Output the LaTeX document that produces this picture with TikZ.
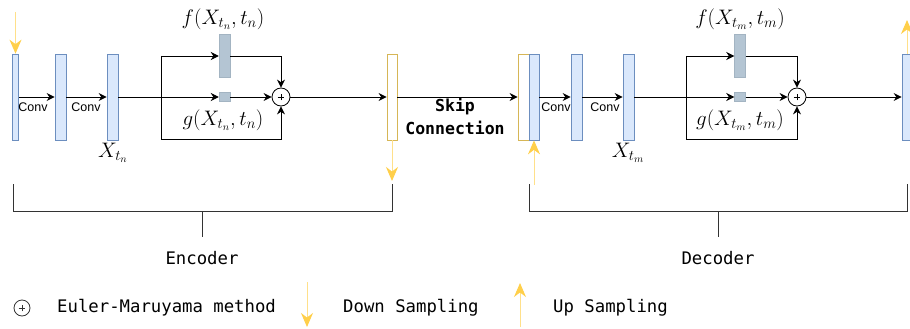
\RequirePackage{fix-cm}
\documentclass[tikz,border=0pt]{standalone}
\usepackage{fontspec}
\newfontfamily\monofont{DejaVu Sans Mono}
\newfontfamily\convfont{Liberation Sans}
\usetikzlibrary{arrows.meta}

\definecolor{barfill}{HTML}{DAE8FC}
\definecolor{barline}{HTML}{6C8EBF}
\definecolor{blkfill}{HTML}{B4C5D3}
\definecolor{blkline}{HTML}{A3B4C2}
\definecolor{skipline}{HTML}{D6B656}
\definecolor{samp}{HTML}{FFE08A}
\definecolor{samphead}{HTML}{FFCF4A}
\definecolor{brk}{HTML}{333333}

\tikzset{
  layer/.style={draw=barline, fill=barfill, line width=0.7pt, inner sep=0pt,
    minimum width=#1, minimum height=86pt},
  layer/.default=11pt,
  skipbar/.style={draw=skipline, fill=white, line width=0.8pt, inner sep=0pt,
    minimum width=#1, minimum height=86pt},
  skipbar/.default=11pt,
  block/.style={draw=blkline, fill=blkfill, line width=0.5pt, inner sep=0pt,
    minimum width=11pt, minimum height=#1},
  summer/.style={circle, draw=black, line width=0.8pt, minimum size=#1, inner sep=0pt,
    path picture={\draw[line width=0.8pt]
      ([xshift=-3.4pt]path picture bounding box.center) -- ([xshift=3.4pt]path picture bounding box.center)
      ([yshift=-3.4pt]path picture bounding box.center) -- ([yshift=3.4pt]path picture bounding box.center);}},
  flow/.style={draw=black, line width=0.9pt, -{Stealth[length=8pt,width=8pt]}},
  wire/.style={draw=black, line width=0.9pt},
  sampling/.style={draw=samp, line width=1pt,
    -{Stealth[length=14pt,width=12pt,color=samphead,fill=samphead]}},
  bracket/.style={draw=brk, line width=0.8pt},
  convlbl/.style={font=\convfont\fontsize{12.5}{14}\selectfont, inner sep=0pt},
  mathlbl/.style={font=\fontsize{21}{24}\selectfont, inner sep=0pt},
  monolbl/.style={font=\monofont\fontsize{17.3}{20}\selectfont, inner sep=0pt},
  skiplbl/.style={font=\monofont\bfseries\fontsize{16.5}{19}\selectfont, inner sep=0pt},
}

\begin{document}
\begin{tikzpicture}[x=1pt, y=-1pt]
\useasboundingbox (0,0) rectangle (910,329);
\begin{scope}
\clip (0,0) rectangle (910,329);

% ---------------- Encoder ----------------
\node[layer=6pt]  (e1) at (15.5,97) {};
\node[layer]      (e2) at (60.5,97) {};
\node[layer]      (e3) at (112.5,97) {};
\node[block=43pt] (ef) at (224.5,56) {};
\node[block=9pt]  (eg) at (224.5,97) {};
\node[summer=18pt] (ep) at (281,97) {};
\node[skipbar=10pt] (eo) at (392,97) {};

\coordinate (eft) at (161,56);
\coordinate (efb) at (161,139);
\coordinate (ein) at (15.5,12);
\coordinate (eout) at (392,181);

\draw[flow] (e1) -- (e2);
\draw[flow] (e2) -- (e3);
\draw[flow] (e3) -- (eg);
\draw[flow] (eg) -- (ep);
\draw[wire] (eft) -- (efb);
\draw[flow] (eft) -- (ef);
\draw[flow] (ef) -| (ep);
\draw[flow] (efb) -| (ep);
\draw[flow] (ep) -- (eo);

\draw[sampling] (ein) -- (e1.north);
\draw[sampling] (eo.south) -- (eout);

\node[convlbl] (ec1) at (33,107) {Conv};
\node[convlbl] (ec2) at (86,107) {Conv};
\node[mathlbl] (efl) at (223,19) {$f(X_{t_n},t_n)$};
\node[mathlbl] (egl) at (223,120) {$g(X_{t_n},t_n)$};
\node[mathlbl] (exl) at (113,153) {$X_{t_n}$};

% ---------------- Skip connection ----------------
\node[skipbar=11pt] (do) at (523.5,97) {};
\draw[flow] (eo) -- (do);
\node[skiplbl] (sk1) at (455,107) {Skip};
\node[skiplbl] (sk2) at (455,128) {Connection};

% ---------------- Decoder ----------------
\node[layer=10pt] (d1) at (534,97) {};
\node[layer]      (d2) at (576.5,97) {};
\node[layer]      (d3) at (628.5,97) {};
\node[block=43pt] (df) at (740,56) {};
\node[block=9pt]  (dg) at (740,97) {};
\node[summer=18pt] (dp) at (797,97) {};
\node[layer=10pt] (dout) at (907,97) {};

\coordinate (dft) at (686,56);
\coordinate (dfb) at (686,139);
\coordinate (din) at (534,185);
\coordinate (dup) at (907,20);

\draw[flow] (d1) -- (d2);
\draw[flow] (d2) -- (d3);
\draw[flow] (d3) -- (dg);
\draw[flow] (dg) -- (dp);
\draw[wire] (dft) -- (dfb);
\draw[flow] (dft) -- (df);
\draw[flow] (df) -| (dp);
\draw[flow] (dfb) -| (dp);
\draw[flow] (dp) -- (dout);

\draw[sampling] (din) -- (d1.south);
\draw[sampling] (dout.north) -- (dup);

\node[convlbl] (dc1) at (556,107) {Conv};
\node[convlbl] (dc2) at (605,107) {Conv};
\node[mathlbl] (dfl) at (740,19) {$f(X_{t_m},t_m)$};
\node[mathlbl] (dgl) at (740,120) {$g(X_{t_m},t_m)$};
\node[mathlbl] (dxl) at (628,153) {$X_{t_m}$};

% ---------------- Brackets ----------------
\draw[bracket] (13,184) -- (13,211) -- (392,211) -- (392,184);
\draw[bracket] (202,211) -- (202,237);
\node[monolbl] (enc) at (202,258) {Encoder};

\draw[bracket] (529,184) -- (529,211) -- (907,211) -- (907,184);
\draw[bracket] (718,211) -- (718,237);
\node[monolbl] (dec) at (718,258) {Decoder};

% ---------------- Legend ----------------
\node[summer=16pt, draw=brk] (lp) at (22,308) {};
\node[monolbl, anchor=west] (lpt) at (57,308) {Euler-Maruyama method};

\coordinate (ldt) at (307,282);
\coordinate (ldb) at (307,327);
\draw[sampling] (ldt) -- (ldb);
\node[monolbl, anchor=west] (ldl) at (343,308) {Down Sampling};

\coordinate (lub) at (520,327);
\coordinate (lut) at (520,283);
\draw[sampling] (lub) -- (lut);
\node[monolbl, anchor=west] (lul) at (553,308) {Up Sampling};
\end{scope}
\end{tikzpicture}
\end{document}
